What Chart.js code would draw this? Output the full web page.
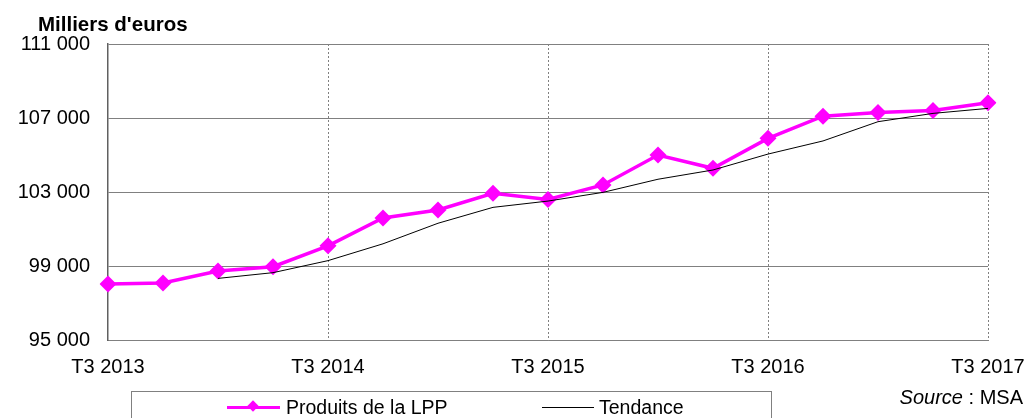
<!DOCTYPE html>
<html>
<head>
<meta charset="utf-8">
<script src="https://cdn.jsdelivr.net/npm/chart.js@4/dist/chart.umd.min.js"></script>
<style>
  html, body { margin: 0; padding: 0; background: #fff; }
  body { width: 1028px; height: 418px; position: relative; overflow: hidden; font-family: "Liberation Sans", Arial, sans-serif; }
  #c { position: absolute; left: 0; top: 0; }
  .txt { position: absolute; color: #000; white-space: nowrap; font-size: 19.5px; line-height: 1; }
  #title { left: 38px; top: 14px; font-weight: bold; font-size: 20.5px; }
  #legend { position: absolute; left: 131px; top: 391px; width: 641px; height: 40px; border: 1px solid #808080; box-sizing: border-box; }
  #source { right: 5px; top: 387px; font-size: 20px; }
</style>
</head>
<body>
<canvas id="c" width="1028" height="418"></canvas>
<div class="txt" id="title">Milliers d'euros</div>
<div id="legend">
  <div style="position:absolute;left:95px;top:14px;width:53px;height:3px;background:#FF00FF"></div>
  <div style="position:absolute;left:117px;top:10px;width:8px;height:8px;background:#FF00FF;transform:rotate(45deg)"></div>
  <div class="txt" style="left:154px;top:6px">Produits de la LPP</div>
  <div style="position:absolute;left:410px;top:15px;width:52px;height:1px;background:#000"></div>
  <div class="txt" style="left:467px;top:6px">Tendance</div>
</div>
<div class="txt" id="source"><i>Source</i> : MSA</div>
<script>
const categories = ["T3 2013","T4 2013","T1 2014","T2 2014","T3 2014","T4 2014","T1 2015","T2 2015","T3 2015","T4 2015","T1 2016","T2 2016","T3 2016","T4 2016","T1 2017","T2 2017","T3 2017"];
const produitsLPP = [98030, 98080, 98730, 98960, 100090, 101600, 102030, 102930, 102600, 103380, 105000, 104280, 105900, 107100, 107300, 107400, 107830];
const tendance = [null, null, 98330, 98640, 99290, 100200, 101310, 102170, 102510, 102980, 103690, 104190, 105050, 105760, 106800, 107250, 107520];
const yTicks = [95000, 99000, 103000, 107000, 111000];
const xTickLabels = ["T3 2013","T3 2014","T3 2015","T3 2016","T3 2017"];

const fmt = v => String(v).replace(/\B(?=(\d{3})+(?!\d))/g, ' ');

new Chart(document.getElementById('c'), {
  type: 'line',
  data: {
    labels: categories,
    datasets: [
      {
        label: 'Produits de la LPP',
        data: produitsLPP,
        borderColor: '#FF00FF',
        backgroundColor: '#FF00FF',
        borderWidth: 3.5,
        pointStyle: 'rectRot',
        pointRadius: 8.5,
        pointBorderWidth: 0,
        tension: 0,
        order: 1
      },
      {
        label: 'Tendance',
        data: tendance,
        borderColor: '#000000',
        borderWidth: 1,
        pointRadius: 0,
        tension: 0,
        spanGaps: false,
        order: 0
      }
    ]
  },
  options: {
    responsive: false,
    animation: false,
    devicePixelRatio: 1,
    layout: { padding: { top: 44, right: 40, left: 0, bottom: 0 } },
    plugins: { legend: { display: false }, tooltip: { enabled: false }, title: { display: false } },
    scales: {
      x: {
        type: 'category',
        offset: false,
        grid: {
          color: ctx => (ctx.index > 0 && xTickLabels.includes(categories[ctx.index])) ? '#808080' : 'rgba(0,0,0,0)',
          lineWidth: 1,
          drawTicks: false
        },
        border: { display: true, color: '#808080', width: 1, dash: [2, 2] },
        ticks: {
          autoSkip: false,
          maxRotation: 0,
          padding: 15,
          color: '#000',
          font: { family: 'Liberation Sans', size: 20 },
          callback: function (v, i) {
            const l = categories[i];
            return xTickLabels.includes(l) ? l : '';
          }
        },
        afterFit: s => { s.height = 78; s.paddingLeft = 0; s.paddingRight = 0; }
      },
      y: {
        min: 95000,
        max: 111000,
        afterBuildTicks: s => { s.ticks = yTicks.map(v => ({ value: v })); },
        grid: { color: '#808080', lineWidth: 1, drawTicks: false },
        border: { display: true, color: '#606060', width: 1.5 },
        ticks: {
          padding: 18,
          color: '#000',
          font: { family: 'Liberation Sans', size: 20 },
          callback: v => fmt(v)
        },
        afterFit: s => { s.width = 108; s.paddingTop = 0; s.paddingBottom = 0; }
      }
    }
  }
});
</script>
</body>
</html>
